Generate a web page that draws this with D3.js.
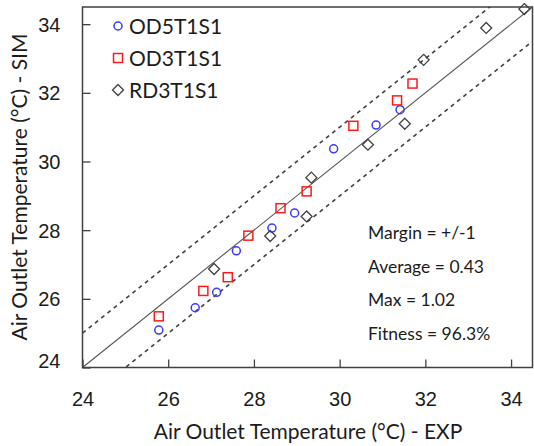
<!DOCTYPE html>
<html>
<head>
<meta charset="utf-8">
<script src="https://cdn.jsdelivr.net/npm/d3@7/dist/d3.min.js"></script>
<style>
  html, body { margin: 0; padding: 0; background: #fff; }
  svg { display: block; font-family: Lato, "Open Sans", sans-serif; }
</style>
</head>
<body>
<svg id="chart" width="534" height="446"></svg>
<script>
// Measured (EXP) vs simulated (SIM) air outlet temperatures, °C
const od5Exp = [25.78, 26.63, 27.13, 27.59, 28.42, 28.95, 29.86, 30.85, 31.41];
const od5Sim = [25.09, 25.74, 26.19, 27.40, 28.06, 28.50, 30.37, 31.06, 31.51];
const od3Exp = [25.78, 26.82, 27.39, 27.87, 28.62, 29.23, 30.32, 31.34, 31.70];
const od3Sim = [25.49, 26.23, 26.63, 27.84, 28.64, 29.13, 31.04, 31.78, 32.27];
const rd3Exp = [27.07, 28.38, 29.23, 29.34, 30.66, 31.52, 31.96, 33.42, 34.31];
const rd3Sim = [26.87, 27.83, 28.40, 29.53, 30.49, 31.10, 32.96, 33.89, 34.44];

const seriesNames = ["OD5T1S1", "OD3T1S1", "RD3T1S1"];
const tickValues = [24, 26, 28, 30, 32, 34];
const axisDomain = [24, 34.5];
const margin = 1;
const statsLines = ["Margin = +/-1", "Average = 0.43", "Max = 1.02", "Fitness = 96.3%"];

const series = [
  { name: seriesNames[0], exp: od5Exp, sim: od5Sim, shape: "circle",  color: "#3a3aff" },
  { name: seriesNames[1], exp: od3Exp, sim: od3Sim, shape: "square",  color: "#ff1a1a" },
  { name: seriesNames[2], exp: rd3Exp, sim: rd3Sim, shape: "diamond", color: "#404040" }
];

const textColor = "#1c1c1c";
const svg = d3.select("#chart");
const plot = { left: 82.5, top: 7, right: 532.5, bottom: 367.5 };

const x = d3.scaleLinear().domain(axisDomain).range([plot.left, plot.right]);
const y = d3.scaleLinear().domain(axisDomain).range([plot.bottom, plot.top]);

svg.append("clipPath").attr("id", "plot-clip")
  .append("rect")
  .attr("x", plot.left).attr("y", plot.top)
  .attr("width", plot.right - plot.left).attr("height", plot.bottom - plot.top);

const lines = svg.append("g").attr("clip-path", "url(#plot-clip)");

// 1:1 reference line and +/- margin band
const diag = d3.line().x(d => x(d[0])).y(d => y(d[1]));
lines.append("path")
  .attr("d", diag(axisDomain.map(v => [v, v])))
  .attr("stroke", "#555").attr("stroke-width", 1.1).attr("fill", "none");
[margin, -margin].forEach(off => {
  lines.append("path")
    .attr("d", diag(axisDomain.map(v => [v, v + off])))
    .attr("stroke", "#404040").attr("stroke-width", 1.6)
    .attr("stroke-dasharray", "4,4").attr("fill", "none");
});

// Marker shapes
function drawMarker(g, shape, color, cx, cy) {
  if (shape === "circle") {
    g.append("circle").attr("cx", cx).attr("cy", cy).attr("r", 4)
      .attr("fill", "none").attr("stroke", color).attr("stroke-width", 1.5);
  } else if (shape === "square") {
    g.append("rect").attr("x", cx - 4.5).attr("y", cy - 4.5)
      .attr("width", 9).attr("height", 9)
      .attr("fill", "none").attr("stroke", color).attr("stroke-width", 1.5);
  } else {
    const s = 5.5;
    g.append("path")
      .attr("d", `M${cx},${cy - s}L${cx + s},${cy}L${cx},${cy + s}L${cx - s},${cy}Z`)
      .attr("fill", "none").attr("stroke", color).attr("stroke-width", 1.3);
  }
}

const pts = svg.append("g");
series.forEach(s => {
  s.exp.forEach((v, i) => drawMarker(pts, s.shape, s.color, x(v), y(s.sim[i])));
});

// Axes with inward ticks
const axisColor = "#404040";
const xAxis = svg.append("g").attr("transform", `translate(0,${plot.bottom})`)
  .call(d3.axisBottom(x).tickValues(tickValues).tickSizeInner(-8).tickSizeOuter(0).tickFormat(d3.format("d")));
const yAxis = svg.append("g").attr("transform", `translate(${plot.left},0)`)
  .call(d3.axisLeft(y).tickValues(tickValues).tickSizeInner(-8).tickSizeOuter(0).tickFormat(d3.format("d")));
[xAxis, yAxis].forEach(a => {
  a.select(".domain").remove();
  a.selectAll(".tick line").attr("stroke", axisColor).attr("stroke-width", 1.3);
  a.selectAll(".tick text").attr("fill", textColor).style("font-size", "20px");
});
xAxis.selectAll(".tick text").attr("y", 24).attr("dy", "0.71em");
yAxis.selectAll(".tick text").attr("x", -22).attr("dy", "0.35em");
yAxis.selectAll(".tick").filter(d => d === 24).select("text").attr("dy", "0.0em");

// Plot frame
svg.append("rect")
  .attr("x", plot.left).attr("y", plot.top)
  .attr("width", plot.right - plot.left).attr("height", plot.bottom - plot.top)
  .attr("fill", "none").attr("stroke", axisColor).attr("stroke-width", 1.5);

// Axis titles
svg.append("text")
  .attr("x", 308).attr("y", 432).attr("dy", "0.35em")
  .attr("text-anchor", "middle").attr("fill", textColor).style("font-size", "21px")
  .text("Air Outlet Temperature (°C) - EXP");
svg.append("text")
  .attr("transform", "translate(20,187) rotate(-90)")
  .attr("dy", "0.35em")
  .attr("text-anchor", "middle").attr("fill", textColor).style("font-size", "21px")
  .text("Air Outlet Temperature (°C) - SIM");

// Legend
const legend = svg.append("g");
series.forEach((s, i) => {
  const ly = 26 + i * 32;
  drawMarker(legend, s.shape, s.color, 118, ly);
  legend.append("text").attr("x", 129).attr("y", ly).attr("dy", "0.36em")
    .attr("fill", textColor).style("font-size", "21px").text(s.name);
});

// Fit statistics
statsLines.forEach((t, i) => {
  svg.append("text").attr("x", 368).attr("y", 233 + i * 33.5).attr("dy", "0.36em")
    .attr("fill", textColor).style("font-size", "17.5px").text(t);
});
</script>
</body>
</html>
